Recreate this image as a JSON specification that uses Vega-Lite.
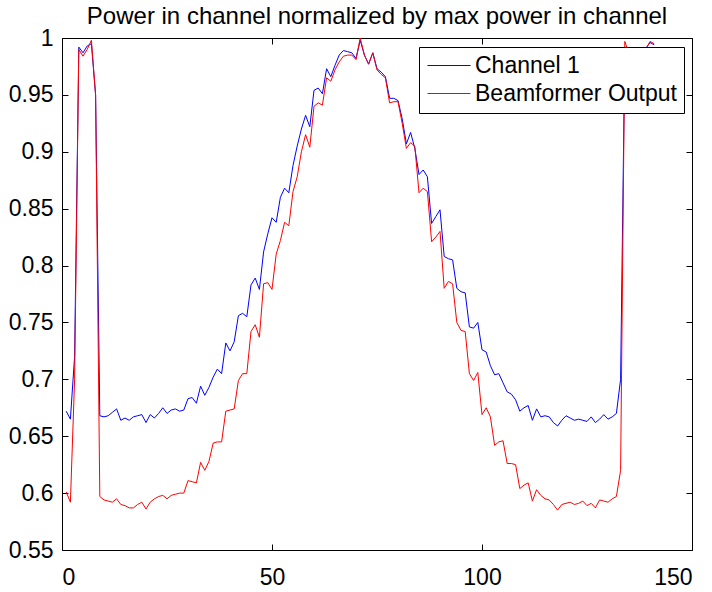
{
  "$schema": "https://vega.github.io/schema/vega-lite/v6.json",
  "width": 630,
  "height": 512,
  "autosize": {"type": "none"},
  "padding": {"left": 62, "top": 38, "right": 20, "bottom": 42},
  "background": "white",
  "title": {"text": "Power in channel normalized by max power in channel", "font": "Liberation Sans", "fontSize": 24, "fontWeight": "normal", "color": "black", "anchor": "middle", "offset": -2},
  "data": {"values": [
    {"x":1,"a":0.672,"b":0.601},{"x":2,"a":0.665,"b":0.592},{"x":3,"a":0.72,"b":0.70},{"x":4,"a":0.992,"b":0.990},{"x":5,"a":0.987,"b":0.984},
    {"x":6,"a":0.993,"b":0.990},{"x":7,"a":0.995,"b":0.998},{"x":8,"a":0.95,"b":0.95},{"x":9,"a":0.668,"b":0.597},{"x":10,"a":0.667,"b":0.594},
    {"x":11,"a":0.668,"b":0.593},{"x":12,"a":0.671,"b":0.592},{"x":13,"a":0.674,"b":0.595},{"x":14,"a":0.664,"b":0.590},{"x":15,"a":0.666,"b":0.589},
    {"x":16,"a":0.664,"b":0.587},{"x":17,"a":0.667,"b":0.587},{"x":18,"a":0.668,"b":0.590},{"x":19,"a":0.669,"b":0.592},{"x":20,"a":0.662,"b":0.586},
    {"x":21,"a":0.669,"b":0.592},{"x":22,"a":0.666,"b":0.595},{"x":23,"a":0.670,"b":0.597},{"x":24,"a":0.675,"b":0.598},{"x":25,"a":0.670,"b":0.595},
    {"x":26,"a":0.673,"b":0.598},{"x":27,"a":0.674,"b":0.599},{"x":28,"a":0.672,"b":0.600},{"x":29,"a":0.673,"b":0.600},{"x":30,"a":0.683,"b":0.611},
    {"x":31,"a":0.684,"b":0.610},{"x":32,"a":0.679,"b":0.609},{"x":33,"a":0.694,"b":0.627},{"x":34,"a":0.686,"b":0.620},{"x":35,"a":0.693,"b":0.628},
    {"x":36,"a":0.702,"b":0.644},{"x":37,"a":0.709,"b":0.645},{"x":38,"a":0.705,"b":0.645},{"x":39,"a":0.732,"b":0.672},{"x":40,"a":0.725,"b":0.673},
    {"x":41,"a":0.733,"b":0.674},{"x":42,"a":0.756,"b":0.699},{"x":43,"a":0.758,"b":0.705},{"x":44,"a":0.755,"b":0.705},{"x":45,"a":0.783,"b":0.742},
    {"x":46,"a":0.789,"b":0.748},{"x":47,"a":0.779,"b":0.737},{"x":48,"a":0.812,"b":0.784},{"x":49,"a":0.828,"b":0.785},{"x":50,"a":0.842,"b":0.779},
    {"x":51,"a":0.838,"b":0.810},{"x":52,"a":0.860,"b":0.822},{"x":53,"a":0.868,"b":0.838},{"x":54,"a":0.864,"b":0.835},{"x":55,"a":0.888,"b":0.865},
    {"x":56,"a":0.905,"b":0.878},{"x":57,"a":0.920,"b":0.900},{"x":58,"a":0.932,"b":0.915},{"x":59,"a":0.922,"b":0.904},{"x":60,"a":0.954,"b":0.940},
    {"x":61,"a":0.956,"b":0.943},{"x":62,"a":0.951,"b":0.941},{"x":63,"a":0.973,"b":0.965},{"x":64,"a":0.966,"b":0.962},{"x":65,"a":0.976,"b":0.972},
    {"x":66,"a":0.985,"b":0.979},{"x":67,"a":0.989,"b":0.984},{"x":68,"a":0.988,"b":0.985},{"x":69,"a":0.987,"b":0.985},{"x":70,"a":0.982,"b":0.981},
    {"x":71,"a":0.998,"b":1.0},{"x":72,"a":0.985,"b":0.985},{"x":73,"a":0.977,"b":0.977},{"x":74,"a":0.987,"b":0.987},{"x":75,"a":0.973,"b":0.972},
    {"x":76,"a":0.970,"b":0.968},{"x":77,"a":0.966,"b":0.965},{"x":78,"a":0.947,"b":0.943},{"x":79,"a":0.947,"b":0.944},{"x":80,"a":0.945,"b":0.944},
    {"x":81,"a":0.929,"b":0.925},{"x":82,"a":0.907,"b":0.903},{"x":83,"a":0.917,"b":0.908},{"x":84,"a":0.903,"b":0.905},{"x":85,"a":0.880,"b":0.864},
    {"x":86,"a":0.884,"b":0.868},{"x":87,"a":0.878,"b":0.865},{"x":88,"a":0.837,"b":0.821},{"x":89,"a":0.843,"b":0.825},{"x":90,"a":0.849,"b":0.830},
    {"x":91,"a":0.808,"b":0.780},{"x":92,"a":0.806,"b":0.786},{"x":93,"a":0.805,"b":0.784},{"x":94,"a":0.780,"b":0.750},{"x":95,"a":0.777,"b":0.743},
    {"x":96,"a":0.776,"b":0.742},{"x":97,"a":0.746,"b":0.705},{"x":98,"a":0.745,"b":0.699},{"x":99,"a":0.750,"b":0.706},{"x":100,"a":0.726,"b":0.669},
    {"x":101,"a":0.724,"b":0.675},{"x":102,"a":0.712,"b":0.667},{"x":103,"a":0.704,"b":0.642},{"x":104,"a":0.705,"b":0.645},{"x":105,"a":0.697,"b":0.646},
    {"x":106,"a":0.689,"b":0.626},{"x":107,"a":0.687,"b":0.626},{"x":108,"a":0.682,"b":0.625},{"x":109,"a":0.672,"b":0.604},{"x":110,"a":0.675,"b":0.607},
    {"x":111,"a":0.677,"b":0.609},{"x":112,"a":0.664,"b":0.593},{"x":113,"a":0.674,"b":0.603},{"x":114,"a":0.667,"b":0.598},{"x":115,"a":0.668,"b":0.595},
    {"x":116,"a":0.667,"b":0.594},{"x":117,"a":0.662,"b":0.590},{"x":118,"a":0.659,"b":0.585},{"x":119,"a":0.664,"b":0.590},{"x":120,"a":0.668,"b":0.591},
    {"x":121,"a":0.666,"b":0.592},{"x":122,"a":0.664,"b":0.590},{"x":123,"a":0.665,"b":0.591},{"x":124,"a":0.664,"b":0.593},{"x":125,"a":0.663,"b":0.589},
    {"x":126,"a":0.667,"b":0.591},{"x":127,"a":0.662,"b":0.587},{"x":128,"a":0.665,"b":0.594},{"x":129,"a":0.669,"b":0.593},{"x":130,"a":0.665,"b":0.592},
    {"x":131,"a":0.667,"b":0.595},{"x":132,"a":0.670,"b":0.597},{"x":133,"a":0.700,"b":0.620},{"x":134,"a":0.990,"b":0.997},{"x":135,"a":0.988,"b":0.986},
    {"x":136,"a":0.986,"b":0.989},{"x":137,"a":0.989,"b":0.985},{"x":138,"a":0.987,"b":0.988},{"x":139,"a":0.991,"b":0.990},{"x":140,"a":0.996,"b":0.997},
    {"x":141,"a":0.994,"b":0.995}
  ]},
  "transform": [{"fold": ["a", "b"], "as": ["series", "power"]}],
  "layer": [
    {
      "mark": {"type": "line", "strokeWidth": 1, "clip": true},
      "encoding": {
        "x": {"field": "x", "type": "quantitative", "scale": {"domain": [0, 150], "nice": false, "zero": false},
              "axis": {"orient": "bottom", "values": [0, 50, 100, 150], "title": null, "labelPadding": 22}},
        "y": {"field": "power", "type": "quantitative", "scale": {"domain": [0.55, 1], "nice": false, "zero": false},
              "axis": {"orient": "left", "values": [0.55, 0.6, 0.65, 0.7, 0.75, 0.8, 0.85, 0.9, 0.95, 1], "format": "~g", "title": null, "labelPadding": 15}},
        "color": {"field": "series", "type": "nominal",
                  "scale": {"domain": ["a", "b"], "range": ["#0000ff", "#ff0000"]},
                  "legend": {"title": null, "orient": "none", "legendX": 357, "legendY": 9,
                             "labelExpr": "datum.label == 'a' ? 'Channel 1' : 'Beamformer Output'"}}
      }
    },
    {
      "mark": {"type": "line", "opacity": 0},
      "encoding": {
        "x": {"field": "x", "type": "quantitative", "scale": {"domain": [0, 150], "nice": false, "zero": false},
              "axis": {"orient": "top", "values": [0, 50, 100, 150], "title": null, "labels": false}},
        "y": {"field": "power", "type": "quantitative", "scale": {"domain": [0.55, 1], "nice": false, "zero": false},
              "axis": {"orient": "right", "values": [0.55, 0.6, 0.65, 0.7, 0.75, 0.8, 0.85, 0.9, 0.95, 1], "title": null, "labels": false}},
        "detail": {"field": "series", "type": "nominal"}
      }
    }
  ],
  "resolve": {"axis": {"x": "independent", "y": "independent"}},
  "config": {
    "view": {"stroke": "black", "strokeWidth": 1},
    "axis": {"domain": false, "grid": false, "ticks": true, "tickColor": "black", "tickSize": -6, "tickWidth": 1,
             "labelFont": "Liberation Sans", "labelFontSize": 23, "labelColor": "black"},
    "legend": {"strokeColor": "black", "fillColor": "white", "padding": 7, "cornerRadius": 0,
               "labelFont": "Liberation Sans", "labelFontSize": 23, "labelColor": "black", "labelOffset": 26, "labelLimit": 0,
               "symbolType": "M-1,0H3.3", "symbolSize": 400, "symbolStrokeWidth": 1, "rowPadding": 4}
  }
}
